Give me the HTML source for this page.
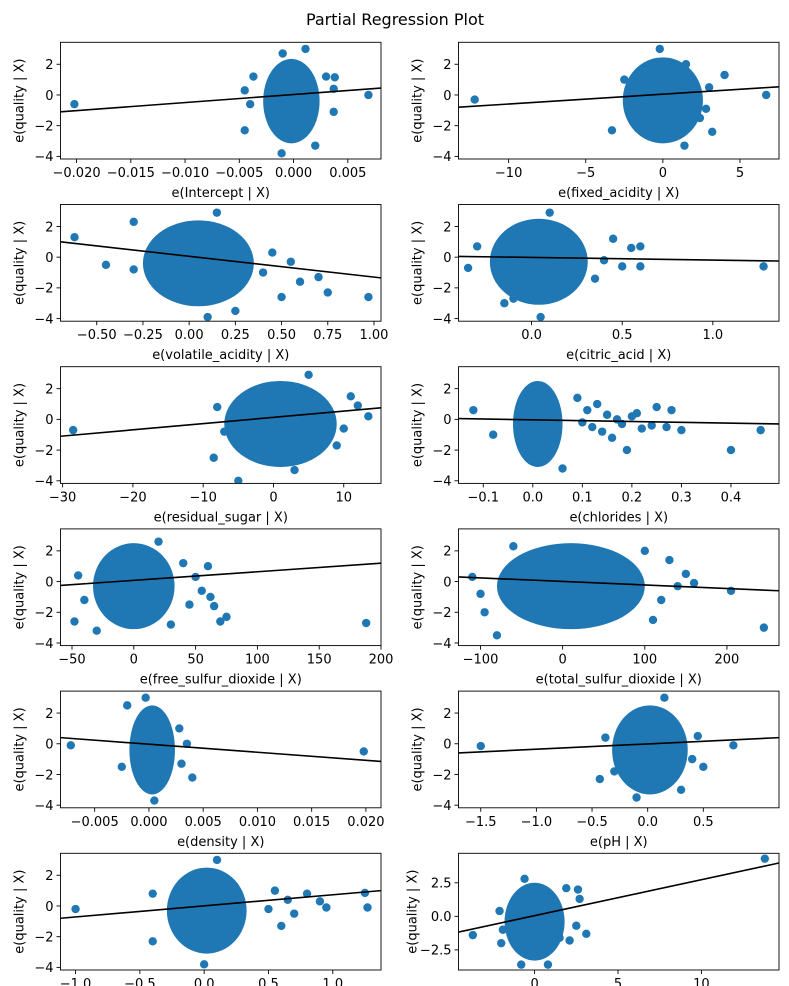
<!DOCTYPE html>
<html><head><meta charset="utf-8"><style>
body{margin:0;background:#fff}
svg{display:block;font-family:"DejaVu Sans","Liberation Sans",sans-serif}
</style></head><body>
<svg id="fig" width="789" height="986" viewBox="0 0 789 986">
<rect width="789" height="986" fill="#fff"/>
<text x="395" y="25" font-size="16" text-anchor="middle">Partial Regression Plot</text>
</svg>
<script>
// ---- data ----
const xLabels = ["e(Intercept | X)","e(fixed_acidity | X)","e(volatile_acidity | X)","e(citric_acid | X)","e(residual_sugar | X)","e(chlorides | X)","e(free_sulfur_dioxide | X)","e(total_sulfur_dioxide | X)","e(density | X)","e(pH | X)","",""];
const xLims = [[-0.02148,0.00806],[-13.25,7.53],[-0.696,1.038],[-0.403,1.365],[-30.3,15.3],[-0.15,0.497],[-59.3,200],[-126.8,263.4],[-0.00815,0.02139],[-1.70,1.18],[-1.117,1.375],[-4.56,14.65]];
const yLims = [[-4.17,3.43],[-4.17,3.43],[-4.17,3.43],[-4.17,3.43],[-4.17,3.43],[-4.17,3.43],[-4.17,3.43],[-4.17,3.43],[-4.17,3.43],[-4.17,3.43],[-4.17,3.43],[-4.0,4.7]];
const xTicks = [[-0.020,-0.015,-0.010,-0.005,0,0.005],[-10,-5,0,5],[-0.5,-0.25,0,0.25,0.5,0.75,1.0],[0,0.5,1.0],[-30,-20,-10,0,10],[-0.1,0,0.1,0.2,0.3,0.4],[-50,0,50,100,150,200],[-100,0,100,200],[-0.005,0,0.005,0.010,0.015,0.020],[-1.5,-1.0,-0.5,0,0.5],[-1.0,-0.5,0,0.5,1.0],[0,5,10]];
const xTickLabels = [["−0.020","−0.015","−0.010","−0.005","0.000","0.005"],["−10","−5","0","5"],["−0.50","−0.25","0.00","0.25","0.50","0.75","1.00"],["0.0","0.5","1.0"],["−30","−20","−10","0","10"],["−0.1","0.0","0.1","0.2","0.3","0.4"],["−50","0","50","100","150","200"],["−100","0","100","200"],["−0.005","0.000","0.005","0.010","0.015","0.020"],["−1.5","−1.0","−0.5","0.0","0.5"],["−1.0","−0.5","0.0","0.5","1.0"],["0","5","10"]];
const yTicks = [2,0,-2,-4];
const yTickLabels = ["2","0","−2","−4"];
const yTicks12 = [2.5,0,-2.5];
const yTickLabels12 = ["2.5","0.0","−2.5"];
const slopes = [52.5,0.064,-1.355,-0.17,0.0406,-0.54,0.00559,-0.0023,-52.5,0.347,0.722,0.268];
const intercepts = [0.03,0.05,0.057,-0.018,0.13,-0.031,0.08,0.008,-0.028,-0.01,0.007,0.052];
// dense core of each cloud: [cx, cy, rx, ry] in data units
const cores = [[-0.0002,-0.4,0.0026,2.75],[0,-0.35,2.6,2.8],[0.05,-0.4,0.3,2.8],[0.04,-0.3,0.27,2.8],[1,-0.3,8,2.8],[0.01,-0.3,0.05,2.8],[0,-0.3,33,2.8],[10,-0.3,90,2.8],[0.0003,-0.4,0.0021,2.9],[0.02,-0.4,0.34,2.9],[0.02,-0.3,0.31,2.8],[0,-0.4,1.8,2.9]];
const pts = [
 [[-0.0202,-0.6],[0.0069,0],[-0.0045,-2.3],[-0.0011,-3.8],[0.0011,3.0],[0.0037,-1.1],[-0.0037,1.2],[0.0037,0.4],[-0.0045,0.3],[0.0030,1.2],[-0.0010,2.7],[0.0020,-3.3],[-0.0040,-0.6],[0.0038,1.15]],
 [[-12.2,-0.3],[6.7,0],[4,1.3],[3.2,-2.4],[-3.3,-2.3],[-2.2,-0.1],[2.4,-1.5],[-1.6,-2.2],[1.4,-3.3],[1.5,2.0],[-0.2,3.0],[2.8,-0.9],[-2.5,1.0],[3.0,0.5]],
 [[-0.62,1.3],[-0.45,-0.5],[0.97,-2.6],[0.75,-2.3],[0.7,-1.3],[0.55,-0.3],[0.5,-2.6],[0.6,-1.6],[0.1,-3.9],[0.25,-3.5],[-0.3,2.3],[0.45,0.3],[0.4,-1.0],[-0.3,-0.8],[0.15,2.9]],
 [[1.28,-0.6],[0.6,0.7],[0.55,0.6],[0.6,-0.6],[0.5,-0.6],[-0.35,-0.7],[0.45,1.2],[-0.15,-3.0],[-0.1,-2.7],[0.05,-3.9],[0.1,2.9],[0.4,-0.2],[-0.3,0.7],[0.35,-1.4]],
 [[-28.5,-0.7],[13.5,0.2],[-8.5,-2.5],[-5,-4],[12,0.9],[11,1.5],[-7,-0.8],[5,2.9],[-8,0.8],[9,-1.7],[3,-3.3],[10,-0.6]],
 [[0.12,-0.5],[0.15,0.3],[0.18,-0.3],[0.2,0.2],[0.22,-0.6],[0.25,0.8],[0.27,-0.5],[0.3,-0.7],[0.4,-2.0],[0.46,-0.7],[0.28,0.6],[0.19,-2.0],[-0.12,0.6],[-0.08,-1.0],[0.13,1.0],[0.16,-1.2],[0.24,-0.4],[0.21,0.4],[0.1,-0.2],[0.11,0.6],[0.14,-0.8],[0.17,0.0],[0.09,1.4],[0.06,-3.2]],
 [[188,-2.7],[-48,-2.6],[-45,0.4],[75,-2.3],[70,-2.6],[62,-1.0],[55,-0.6],[60,1.0],[50,0.3],[45,-1.5],[30,-2.8],[20,2.6],[-30,-3.2],[40,1.2],[65,-1.6],[-40,-1.2]],
 [[245,-3.0],[205,-0.6],[-110,0.3],[150,0.5],[140,-0.3],[-80,-3.5],[160,-0.1],[120,-1.2],[130,1.4],[-95,-2.0],[100,2.0],[-60,2.3],[110,-2.5],[-100,-0.8]],
 [[0.0198,-0.5],[-0.0072,-0.1],[0.004,-2.2],[0.003,-1.3],[0.0035,0.0],[-0.002,2.5],[0.0005,-3.7],[-0.0025,-1.5],[0.0028,1.0],[-0.0003,3.0]],
 [[-1.5,-0.15],[0.77,-0.1],[-0.43,-2.3],[0.5,-1.5],[0.15,3.0],[-0.3,-1.8],[0.4,-1.0],[0.45,0.5],[-0.38,0.4],[0.3,-3.0],[-0.1,-3.5]],
 [[-1.0,-0.2],[1.27,-0.1],[1.25,0.85],[0.95,-0.1],[0.9,0.3],[0.8,0.8],[0.7,-0.5],[0.6,-1.3],[0.55,1.0],[-0.4,-2.3],[0.5,-0.2],[0.65,0.4],[-0.4,0.8],[0.1,3.0],[0.0,-3.8]],
 [[13.8,4.3],[-3.7,-1.4],[2.6,2.0],[1.9,2.1],[2.7,1.3],[3.1,-1.3],[2.5,-0.7],[2.1,-1.8],[1.5,-1.6],[-2.1,0.4],[0.8,-3.6],[-0.8,-3.6],[-0.6,2.8],[-1.9,-1.0],[-2.0,-2.0]]
];
// ---- layout ----
const NS = "http://www.w3.org/2000/svg";
const svg = document.getElementById('fig');
const colL = [60.5,381], colR = [458.5,779];
const rowTops = [42.3,204.5,366.7,528.9,691.1,853.3];
const H = 116.7;
const BLUE = "#1f77b4";
function mk(tag, attrs, parent){const e=document.createElementNS(NS,tag);for(const k in attrs)e.setAttribute(k,attrs[k]);(parent||svg).appendChild(e);return e;}
const defs = mk('defs',{});
for(let i=0;i<12;i++){
  const col = i%2===0?colL:colR, top = rowTops[Math.floor(i/2)];
  const x0=col[0], x1=col[1], y0=top, y1=top+H;
  const [xa,xb]=xLims[i], [ya,yb]=yLims[i];
  const sx = v => x0 + (v-xa)/(xb-xa)*(x1-x0);
  const sy = v => y1 - (v-ya)/(yb-ya)*(y1-y0);
  const g = mk('g',{});
  
  
  const cp = mk('clipPath',{id:'c'+i},defs);
  mk('rect',{x:x0,y:y0,width:x1-x0,height:y1-y0},cp);
  const plot = mk('g',{'clip-path':'url(#c'+i+')'},g);
  
  
  const c = cores[i];
  const core = mk('ellipse',{cx:sx(c[0]),cy:sy(c[1]),rx:Math.abs(sx(c[0]+c[2])-sx(c[0])),ry:Math.abs(sy(c[1]+c[3])-sy(c[1])),fill:BLUE},plot);
  
  
  pts[i].forEach(p=>{
    const d = mk('circle',{cx:sx(p[0]),cy:sy(p[1]),r:4.2,fill:BLUE},plot);
    
    
  });
  const ln = mk('line',{x1:sx(xa),y1:sy(slopes[i]*xa+intercepts[i]),x2:sx(xb),y2:sy(slopes[i]*xb+intercepts[i]),stroke:'#000','stroke-width':1.6},plot);
  
  
  const fr = mk('rect',{x:x0,y:y0,width:x1-x0,height:y1-y0,fill:'none',stroke:'#000','stroke-width':0.9},g);
  
  
  xTicks[i].forEach((t,j)=>{
    const x=sx(t);
    mk('line',{x1:x,y1:y1,x2:x,y2:y1+4,stroke:'#000','stroke-width':0.9},g);
    const tx = mk('text',{x:x,y:y1+18,'font-size':13,'text-anchor':'middle'},g);
    tx.textContent = xTickLabels[i][j];
    
    
  });
  const yt = i===11?yTicks12:yTicks, ytl = i===11?yTickLabels12:yTickLabels;
  yt.forEach((t,j)=>{
    const y=sy(t);
    mk('line',{x1:x0-4,y1:y,x2:x0,y2:y,stroke:'#000','stroke-width':0.9},g);
    const tx = mk('text',{x:x0-7,y:y+4.8,'font-size':13,'text-anchor':'end'},g);
    tx.textContent = ytl[j];
    
    
  });
  if(xLabels[i]){
    const xl = mk('text',{x:(x0+x1)/2,y:y1+38,'font-size':13,'text-anchor':'middle'},g);
    xl.textContent = xLabels[i];
    
    
  }
  const ylx = i===11 ? x0-42 : x0-37;
  const yl = mk('text',{x:ylx,y:(y0+y1)/2,'font-size':13,'text-anchor':'middle',transform:'rotate(-90 '+ylx+' '+((y0+y1)/2)+')'},g);
  yl.textContent = 'e(quality | X)';
  
  
}
</script>
</body></html>
